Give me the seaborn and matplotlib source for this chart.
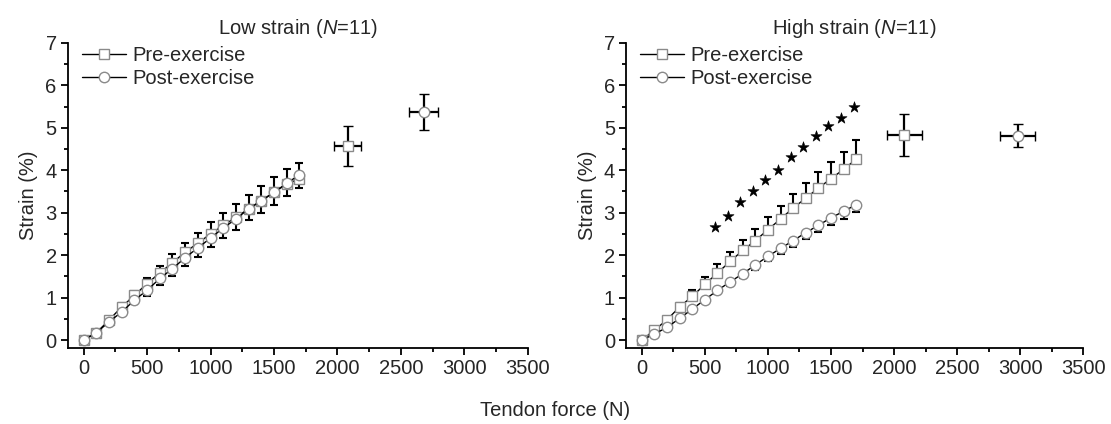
import numpy as np
import pandas as pd
import seaborn as sns
import matplotlib.pyplot as plt
from matplotlib.ticker import MultipleLocator

# tendon force steps (N)
force = [0, 100, 200, 300, 400, 500, 600, 700, 800, 900,
         1000, 1100, 1200, 1300, 1400, 1500, 1600, 1700]

# low strain group
low_pre = [0, 0.17, 0.47, 0.78, 1.05, 1.33, 1.58, 1.82, 2.07, 2.28,
           2.50, 2.70, 2.89, 3.09, 3.28, 3.48, 3.67, 3.80]
low_pre_err = [0, 0.03, 0.06, 0.09, 0.11, 0.14, 0.17, 0.20, 0.22, 0.25,
               0.27, 0.29, 0.31, 0.33, 0.35, 0.36, 0.37, 0.38]
low_post = [0, 0.17, 0.43, 0.66, 0.94, 1.17, 1.45, 1.68, 1.94, 2.17,
            2.40, 2.64, 2.85, 3.09, 3.28, 3.48, 3.69, 3.89]
low_post_err = [0, 0.03, 0.05, 0.08, 0.10, 0.13, 0.15, 0.17, 0.19, 0.21,
                0.22, 0.24, 0.26, 0.27, 0.28, 0.29, 0.30, 0.31]

# high strain group
high_pre = [0, 0.23, 0.48, 0.78, 1.03, 1.31, 1.58, 1.85, 2.11, 2.34,
            2.60, 2.85, 3.11, 3.34, 3.58, 3.80, 4.02, 4.26]
high_pre_err = [0, 0.04, 0.07, 0.10, 0.14, 0.17, 0.20, 0.22, 0.24, 0.27,
                0.29, 0.31, 0.33, 0.35, 0.37, 0.39, 0.42, 0.45]
high_post = [0, 0.14, 0.30, 0.51, 0.73, 0.95, 1.17, 1.37, 1.56, 1.77,
             1.97, 2.16, 2.34, 2.53, 2.70, 2.88, 3.03, 3.19]
high_post_err = [0, 0.02, 0.03, 0.04, 0.06, 0.07, 0.08, 0.09, 0.10, 0.11,
                 0.12, 0.13, 0.14, 0.15, 0.16, 0.16, 0.17, 0.18]

# significance stars (high strain)
star_force = [580, 680, 780, 880, 980, 1080, 1180, 1280, 1380, 1480, 1580, 1680]
star_y = [2.67, 2.93, 3.26, 3.50, 3.77, 4.01, 4.30, 4.55, 4.81, 5.03, 5.24, 5.49]

# maximal force / strain points: [pre, post]
low_max_force = [2080, 2680]
low_max_force_err = [105, 114]
low_max_strain = [4.58, 5.37]
low_max_strain_err = [0.47, 0.43]
high_max_force = [2080, 2980]
high_max_force_err = [138, 138]
high_max_strain = [4.83, 4.81]
high_max_strain_err = [0.50, 0.27]

sns.set_style("ticks")
plt.rcParams['font.family'] = ['Liberation Sans', 'DejaVu Sans']
plt.rcParams['mathtext.fontset'] = 'custom'
plt.rcParams['mathtext.it'] = 'Liberation Sans:italic'
plt.rcParams['mathtext.rm'] = 'Liberation Sans'

fig = plt.figure(figsize=(11.11, 4.24), dpi=100)
ax1 = fig.add_axes([0.061, 0.179, 0.414, 0.72])
ax2 = fig.add_axes([0.5635, 0.179, 0.4115, 0.72])

GRAY = "#8a8a8a"
FS = 14.5


def draw_panel(ax, title, pre, pre_err, post, post_err, mf, mfe, ms, mse):
    df = pd.DataFrame({"force": force, "pre": pre, "post": post})
    ax.errorbar(force, pre, yerr=[np.zeros(len(pre)), pre_err], fmt="none",
                ecolor="black", elinewidth=1.5, capsize=3, capthick=1.5, zorder=2)
    ax.errorbar(force, post, yerr=[post_err, np.zeros(len(post))], fmt="none",
                ecolor="black", elinewidth=1.5, capsize=3, capthick=1.5, zorder=2)
    sns.lineplot(data=df, x="force", y="pre", ax=ax, color="black", lw=1,
                 marker="s", markersize=7, markerfacecolor="white",
                 markeredgecolor=GRAY, markeredgewidth=1, label="Pre-exercise", zorder=3)
    sns.lineplot(data=df, x="force", y="post", ax=ax, color="black", lw=1,
                 marker="o", markersize=7.5, markerfacecolor="white",
                 markeredgecolor=GRAY, markeredgewidth=1, label="Post-exercise", zorder=3)
    # maximal points
    for k, mk in enumerate(["s", "o"]):
        ax.errorbar([mf[k]], [ms[k]], xerr=[mfe[k]], yerr=[mse[k]], fmt=mk,
                    ms=7 if mk == "s" else 7.5, mfc="white", mec=GRAY, mew=1,
                    ecolor="black", elinewidth=1.6, capsize=3.5, capthick=1.6, zorder=3)

    ax.set_xlim(-125, 3500)
    ax.set_ylim(-0.19, 7)
    ax.xaxis.set_major_locator(MultipleLocator(500))
    ax.xaxis.set_minor_locator(MultipleLocator(250))
    ax.yaxis.set_major_locator(MultipleLocator(1))
    ax.yaxis.set_minor_locator(MultipleLocator(0.5))
    ax.tick_params(which="major", length=5, width=1.3, labelsize=FS, color="black", pad=3)
    ax.tick_params(which="minor", length=3, width=1.3, color="black")
    for s in ["left", "bottom"]:
        ax.spines[s].set_linewidth(1.3)
        ax.spines[s].set_color("black")
    sns.despine(ax=ax)
    ax.set_xlabel("")
    ax.set_ylabel("Strain (%)", fontsize=FS, labelpad=5)
    ax.set_title(title, fontsize=FS, pad=6)


draw_panel(ax1, "Low strain ($\\it{N}$=11)", low_pre, low_pre_err, low_post, low_post_err,
           low_max_force, low_max_force_err, low_max_strain, low_max_strain_err)
draw_panel(ax2, "High strain ($\\it{N}$=11)", high_pre, high_pre_err, high_post, high_post_err,
           high_max_force, high_max_force_err, high_max_strain, high_max_strain_err)

sns.scatterplot(x=star_force, y=star_y, ax=ax2, marker="*", s=70, color="black",
                edgecolor="black", linewidth=0.4, zorder=4, legend=False)

for ax in (ax1, ax2):
    ax.legend(loc="upper left", bbox_to_anchor=(0.0, 1.035), frameon=False,
              fontsize=FS, handlelength=2.2, handletextpad=0.3, labelspacing=0.18,
              borderaxespad=0.3)

fig.text(0.5, 0.031, "Tendon force (N)", ha="center", va="center", fontsize=FS)

fig.savefig("out.png", dpi=100)
